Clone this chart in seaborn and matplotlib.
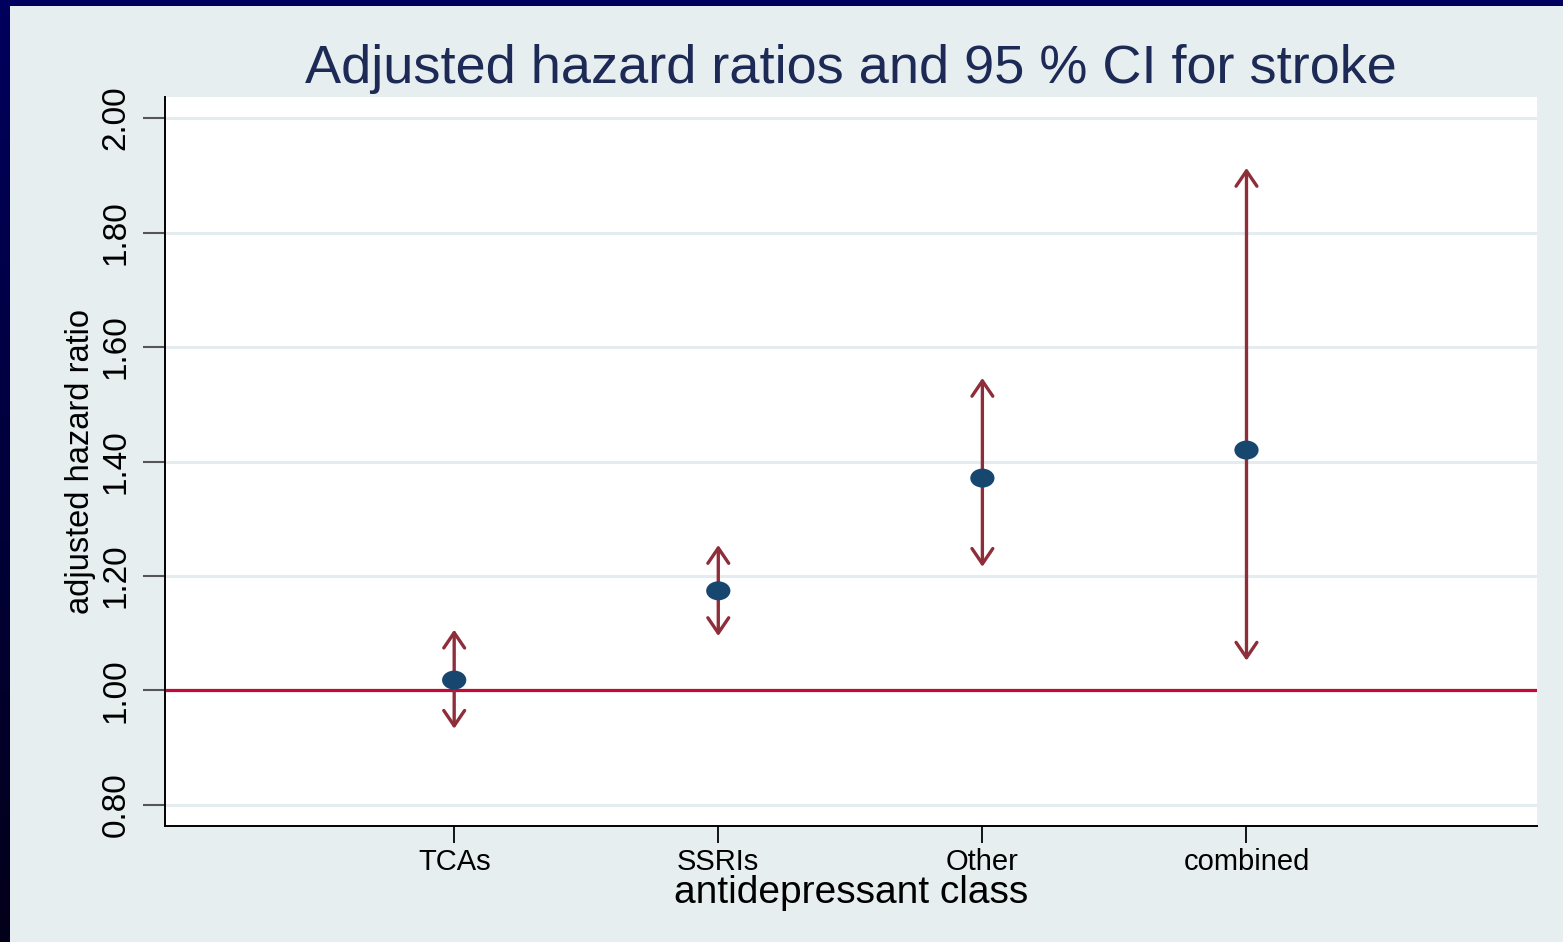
import numpy as np
import pandas as pd
import matplotlib
matplotlib.use("Agg")
import matplotlib.pyplot as plt
import seaborn as sns
from matplotlib.markers import MarkerStyle
from matplotlib.transforms import Affine2D
from matplotlib.patches import ArrowStyle
from matplotlib.colors import LinearSegmentedColormap

categories = ["TCAs", "SSRIs", "Other", "combined"]
hr = [1.018, 1.174, 1.371, 1.420]
ci_low = [0.933, 1.095, 1.216, 1.052]
ci_high = [1.106, 1.254, 1.546, 1.913]
y_ticks = [0.80, 1.00, 1.20, 1.40, 1.60, 1.80, 2.00]
y_tick_labels = ["0.80", "1.00", "1.20", "1.40", "1.60", "1.80", "2.00"]
title = "Adjusted hazard ratios and 95 % CI for stroke"
xlabel = "antidepressant class"
ylabel = "adjusted hazard ratio"
ref_value = 1.0

sns.set_theme(style="white")
plt.rcParams["font.family"] = ["Liberation Sans", "DejaVu Sans"]

BG = "#e7eef0"
W, H = 1563, 942
fig = plt.figure(figsize=(W / 100, H / 100), dpi=100, facecolor=BG)

# frame: top stripe and gradient left stripe
top_ax = fig.add_axes([0, 1 - 6 / H, 1, 6 / H])
top_ax.set_axis_off()
top_ax.add_patch(plt.Rectangle((0, 0), 1, 1, color="#00005e", transform=top_ax.transAxes))
left_ax = fig.add_axes([0, 0, 10 / W, 1])
grad = np.linspace(0, 1, 256).reshape(-1, 1)
cmap = LinearSegmentedColormap.from_list("frame", ["#00005e", "#03001a"])
left_ax.imshow(grad, aspect="auto", cmap=cmap, extent=[0, 1, 0, 1], origin="upper")
left_ax.set_axis_off()

ax = fig.add_axes([165 / W, (H - 826) / H, (1537 - 165) / W, (826 - 97) / H])
ax.set_facecolor("white")

df = pd.DataFrame({"x": np.arange(len(categories)), "hr": hr,
                   "lo": ci_low, "hi": ci_high, "cat": categories})

# gridlines
for t in y_ticks:
    ax.axhline(t, color="#e4ecef", lw=2.2, zorder=0)

# reference line
ax.axhline(ref_value, color="#c1093a", lw=2.3, zorder=1)

# CI arrows
astyle = ArrowStyle("<->", head_length=11, head_width=7.5)
for xi, lo, hi in zip(df["x"], df["lo"], df["hi"]):
    ax.annotate("", xy=(xi, hi), xytext=(xi, lo),
                arrowprops=dict(arrowstyle=astyle, color="#8e2e3a", lw=2.4,
                                shrinkA=0, shrinkB=0, mutation_scale=1),
                zorder=2)

marker = MarkerStyle("o", transform=Affine2D().scale(1.15, 0.9))
sns.scatterplot(data=df, x="x", y="hr", ax=ax, marker=marker, s=230,
                color="#17466f", edgecolor="none", zorder=3, legend=False)

ax.set_xlim(-1.095, 4.10)
ax.set_ylim(0.763, 2.037)
ax.set_xticks(df["x"])
ax.set_xticklabels(categories, fontsize=21)
ax.set_yticks(y_ticks)
ax.set_yticklabels(y_tick_labels, fontsize=24, rotation=90, va="center")

ax.tick_params(axis="x", direction="out", length=12, width=1.3, color="black",
               pad=4, labelcolor="black", bottom=True)
ax.tick_params(axis="y", direction="out", length=16, width=1.5, color="#555555",
               pad=8, labelcolor="black", left=True)

for side in ["top", "right"]:
    ax.spines[side].set_visible(False)
for side in ["left", "bottom"]:
    ax.spines[side].set_color("black")
    ax.spines[side].set_linewidth(1.4)

ax.set_xlabel(xlabel, fontsize=28, color="black", labelpad=-1)
ax.set_ylabel(ylabel, fontsize=23.5, color="black", labelpad=3)
ax.set_title(title, fontsize=39, color="#1c2a55", pad=10)

fig.savefig("out.png", dpi=100, facecolor=BG)
